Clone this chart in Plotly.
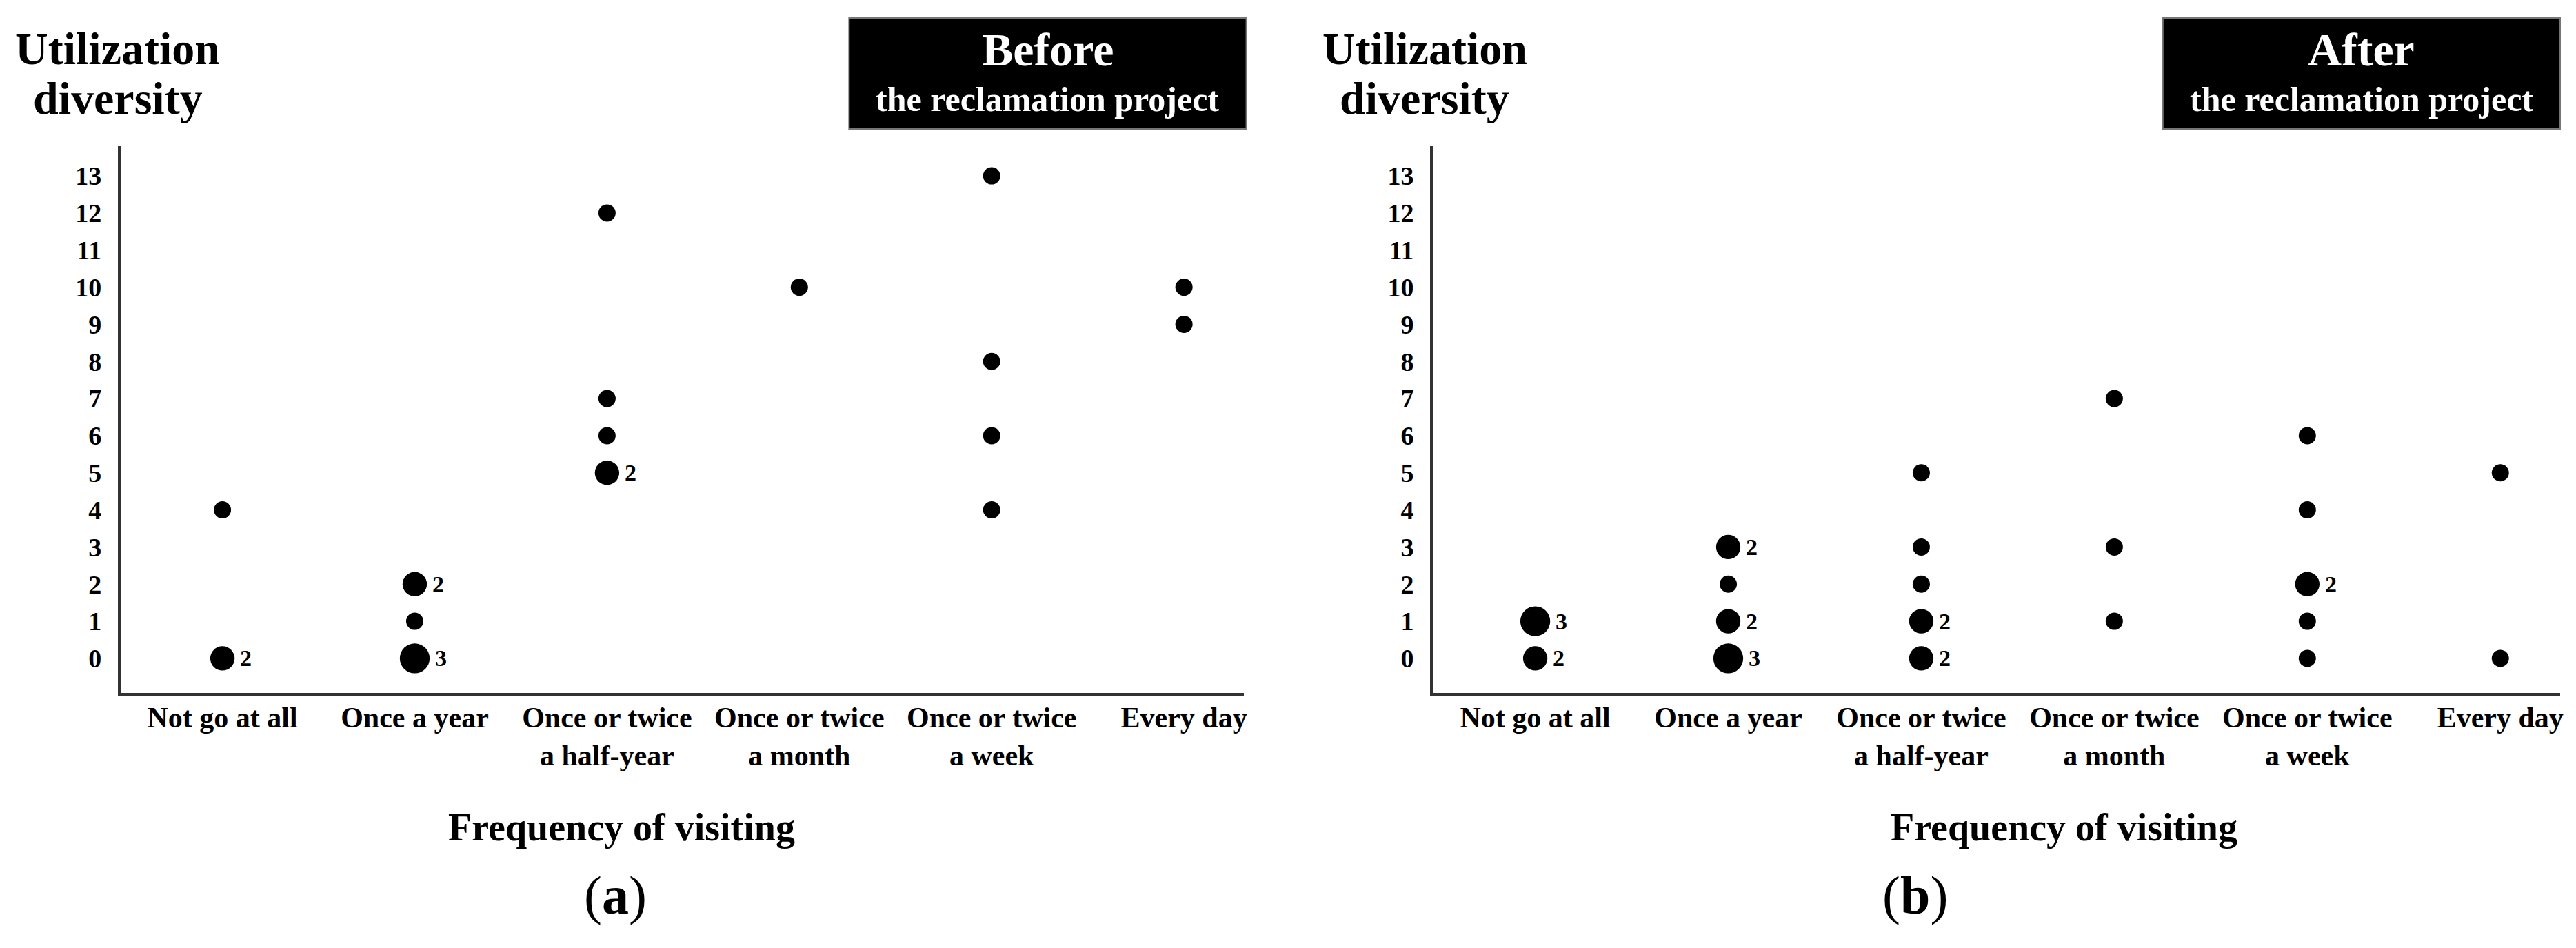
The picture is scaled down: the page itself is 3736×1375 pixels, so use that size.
import math
import plotly.graph_objects as go

W, H = 3736, 1375
FONT = "Liberation Serif"

# ---------------- data ----------------
categories = ["Not go at all", "Once a year", "Once or twice a half-year",
              "Once or twice a month", "Once or twice a week", "Every day"]
tick_labels = ["Not go at all", "Once a year", "Once or twice<br>a half-year",
               "Once or twice<br>a month", "Once or twice<br>a week", "Every day"]
y_tick_values = list(range(0, 14))

before_freq = ["Not go at all", "Not go at all",
               "Once a year", "Once a year", "Once a year",
               "Once or twice a half-year", "Once or twice a half-year",
               "Once or twice a half-year", "Once or twice a half-year",
               "Once or twice a month",
               "Once or twice a week", "Once or twice a week",
               "Once or twice a week", "Once or twice a week",
               "Every day", "Every day"]
before_diversity = [4, 0, 2, 1, 0, 12, 7, 6, 5, 10, 13, 8, 6, 4, 10, 9]
before_count = [1, 2, 2, 1, 3, 1, 1, 1, 2, 1, 1, 1, 1, 1, 1, 1]

after_freq = ["Not go at all", "Not go at all",
              "Once a year", "Once a year", "Once a year", "Once a year",
              "Once or twice a half-year", "Once or twice a half-year",
              "Once or twice a half-year", "Once or twice a half-year",
              "Once or twice a half-year",
              "Once or twice a month", "Once or twice a month", "Once or twice a month",
              "Once or twice a week", "Once or twice a week", "Once or twice a week",
              "Once or twice a week", "Once or twice a week",
              "Every day", "Every day"]
after_diversity = [1, 0, 3, 2, 1, 0, 5, 3, 2, 1, 0, 7, 3, 1, 6, 4, 2, 1, 0, 5, 0]
after_count = [3, 2, 2, 1, 2, 3, 1, 1, 1, 2, 2, 1, 1, 1, 1, 1, 2, 1, 1, 1, 1]

panel_titles = ["Before", "After"]
panel_subtitle = "the reclamation project"
y_title = ["Utilization", "diversity"]
x_title = "Frequency of visiting"
panel_tags = ["a", "b"]

# ---------------- layout helpers (pixels -> paper) ----------------
def px(x):
    return x / W

def py(y):
    return 1 - y / H

BASE_SIZE = 25


def msize(c):
    return BASE_SIZE * math.sqrt(c)


fig = go.Figure()
annotations = []
shapes = []

panels = [
    dict(freq=before_freq, div=before_diversity, cnt=before_count,
         xa="x", ya="y", dom=(175, 1806), box=(1233, 1810),
         ytitle_cx=171, xtitle_cx=903, tag_cx=894),
    dict(freq=after_freq, div=after_diversity, cnt=after_count,
         xa="x2", ya="y2", dom=(2081, 3718), box=(3141, 3718),
         ytitle_cx=2069, xtitle_cx=2998, tag_cx=2781),
]

for i, p in enumerate(panels):
    fig.add_trace(go.Scatter(
        x=p["freq"], y=p["div"], mode="markers",
        xaxis=p["xa"], yaxis=p["ya"],
        marker=dict(color="black", opacity=1, size=[msize(c) for c in p["cnt"]],
                    line=dict(width=0)),
        showlegend=False, hoverinfo="skip",
    ))
    # count labels
    for f, d, c in zip(p["freq"], p["div"], p["cnt"]):
        if c > 1:
            annotations.append(dict(
                x=f, y=d, xref=p["xa"], yref=p["ya"], text=f"<b>{c}</b>",
                showarrow=False, xanchor="left", yanchor="middle",
                xshift=msize(c) / 2 + 6,
                font=dict(family=FONT, size=34, color="black"),
            ))
    # black box with titles
    bx0, bx1 = p["box"]
    shapes.append(dict(type="rect", xref="paper", yref="paper",
                       x0=px(bx0), x1=px(bx1), y0=py(187), y1=py(26),
                       fillcolor="black", line=dict(color="#777", width=2),
                       layer="above"))
    bcx = (bx0 + bx1) / 2
    annotations.append(dict(x=px(bcx), y=py(72), xref="paper", yref="paper",
                            text=f"<b>{panel_titles[i]}</b>", showarrow=False,
                            xanchor="center", yanchor="middle",
                            font=dict(family=FONT, size=68, color="white")))
    annotations.append(dict(x=px(bcx), y=py(144), xref="paper", yref="paper",
                            text=f"<b>{panel_subtitle}</b>", showarrow=False,
                            xanchor="center", yanchor="middle",
                            font=dict(family=FONT, size=50, color="white")))
    # y title (two lines)
    annotations.append(dict(x=px(p["ytitle_cx"]), y=py(71), xref="paper", yref="paper",
                            text=f"<b>{y_title[0]}</b>", showarrow=False,
                            xanchor="center", yanchor="middle",
                            font=dict(family=FONT, size=66, color="black")))
    annotations.append(dict(x=px(p["ytitle_cx"]), y=py(143), xref="paper", yref="paper",
                            text=f"<b>{y_title[1]}</b>", showarrow=False,
                            xanchor="center", yanchor="middle",
                            font=dict(family=FONT, size=66, color="black")))
    # x title
    annotations.append(dict(x=px(p["xtitle_cx"]), y=py(1200), xref="paper", yref="paper",
                            text=f"<b>{x_title}</b>", showarrow=False,
                            xanchor="center", yanchor="middle",
                            font=dict(family=FONT, size=56, color="black")))
    # panel tag
    annotations.append(dict(x=px(p["tag_cx"]), y=py(1298), xref="paper", yref="paper",
                            text=f"(<b>{panel_tags[i]}</b>)", showarrow=False,
                            xanchor="center", yanchor="middle",
                            font=dict(family=FONT, size=78, color="black")))

axis_common = dict(showgrid=False, zeroline=False, showline=True,
                   linecolor="#333333", linewidth=4, ticks="", mirror=False)

xaxis_cfg = dict(axis_common, type="category", categoryorder="array",
                 categoryarray=categories, tickvals=categories, ticktext=tick_labels,
                 range=[-0.53, 5.31], ticklabelstandoff=-4,
                 tickfont=dict(family=FONT, size=42, color="black", weight="bold"))
yaxis_cfg = dict(axis_common, range=[-0.93, 13.8], tickvals=y_tick_values,
                 ticktext=[str(v) for v in y_tick_values], ticklabelstandoff=16,
                 tickfont=dict(family=FONT, size=38, color="black", weight="bold"))

y_dom = [py(1005), py(212)]

fig.update_layout(
    width=W, height=H,
    margin=dict(l=0, r=0, t=0, b=0),
    paper_bgcolor="white", plot_bgcolor="white",
    xaxis=dict(xaxis_cfg, domain=[px(175), px(1806)], anchor="y"),
    yaxis=dict(yaxis_cfg, domain=y_dom, anchor="x"),
    xaxis2=dict(xaxis_cfg, domain=[px(2081), px(3718)], anchor="y2"),
    yaxis2=dict(yaxis_cfg, domain=y_dom, anchor="x2"),
    annotations=annotations,
    shapes=shapes,
    font=dict(family=FONT),
)

fig.write_html("out.html",
               config={"displayModeBar": False, "staticPlot": True},
               post_script="document.body.style.margin='0';document.body.style.overflow='hidden';")
